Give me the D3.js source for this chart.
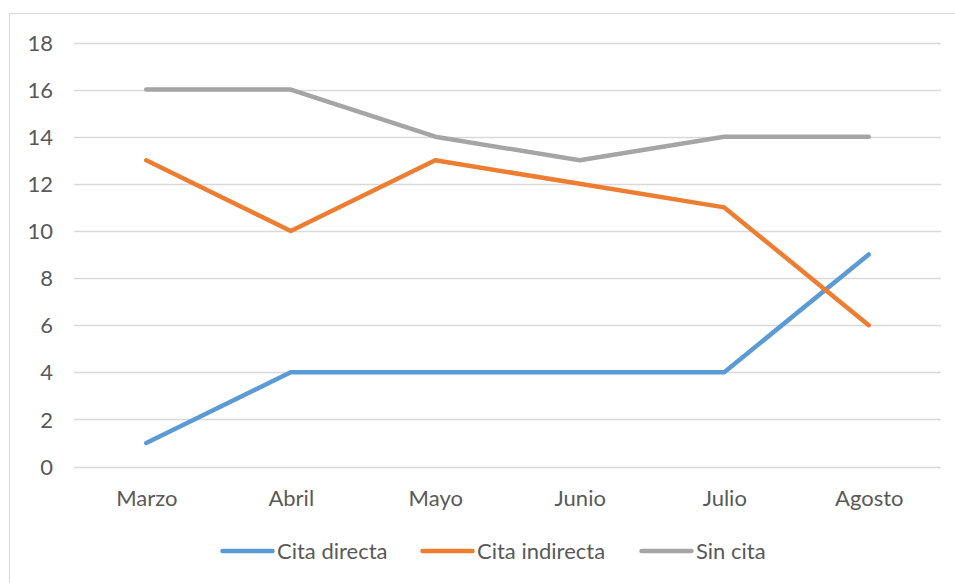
<!DOCTYPE html>
<html><head><meta charset="utf-8">
<script src="https://cdn.jsdelivr.net/npm/d3@7"></script>
<style>body{margin:0;background:#fff}svg{display:block}</style>
</head><body>
<script>
const categories = ["Marzo","Abril","Mayo","Junio","Julio","Agosto"];
const seriesNames = ["Cita directa","Cita indirecta","Sin cita"];
const citaDirecta = [1,4,4,4,4,9];
const citaIndirecta = [13,10,13,12,11,6];
const sinCita = [16,16,14,13,14,14];
const yTicks = [0,2,4,6,8,10,12,14,16,18];
const colors = ["#5B9BD5","#ED7D31","#A5A5A5"];
const seriesValues = [citaDirecta, citaIndirecta, sinCita];

const W=955,H=583;
const svg=d3.select("body").append("svg").attr("width",W).attr("height",H);
const font="Lato, 'Open Sans', sans-serif";
const fs=22;
svg.append("rect").attr("x",9.5).attr("y",13.5).attr("width",W).attr("height",H).attr("fill","#fff").attr("stroke","#D9D9D9").attr("stroke-width",1);

const pLeft=74,pRight=941,pTop=42.5,pBottom=466.5;
const x=d3.scalePoint().domain(categories).range([pLeft,pRight]).padding(0.5);
const y=d3.scaleLinear().domain([0,18]).range([pBottom,pTop]);

const grid=svg.append("g");
grid.selectAll("line").data(yTicks).join("line")
 .attr("x1",pLeft).attr("x2",pRight)
 .attr("y1",d=>Math.round(y(d))+0.5).attr("y2",d=>Math.round(y(d))+0.5)
 .attr("stroke","#D9D9D9").attr("stroke-width",1.3);

const yAxis=d3.axisLeft(y).tickValues(yTicks).tickSize(0).tickPadding(0);
const ya=svg.append("g").attr("transform",`translate(53,0)`).call(yAxis);
ya.select(".domain").remove();
ya.selectAll("text").attr("font-family",font).attr("font-size",fs).attr("fill","#595959").attr("dy","0.35em");

const xAxis=d3.axisBottom(x).tickSize(0).tickPadding(0);
const xa=svg.append("g").attr("transform",`translate(0,${pBottom})`).call(xAxis);
xa.select(".domain").remove();
xa.selectAll("text").attr("font-family",font).attr("font-size",fs).attr("fill","#595959").attr("y",39.5).attr("dy","0");

const line=d3.line().x((d,i)=>x(categories[i])).y(d=>y(d));
seriesValues.forEach((vals,k)=>{
 svg.append("path").datum(vals).attr("d",line).attr("fill","none")
  .attr("stroke",colors[k]).attr("stroke-width",4.5).attr("stroke-linecap","round").attr("stroke-linejoin","round");
});

const legX=[222.5,422.5,641.5];
const lg=svg.append("g");
seriesNames.forEach((n,k)=>{
 const g=lg.append("g").attr("transform",`translate(${legX[k]},551)`);
 g.append("line").attr("x1",0).attr("x2",50).attr("y1",0).attr("y2",0).attr("stroke",colors[k]).attr("stroke-width",4.5).attr("stroke-linecap","round");
 g.append("text").attr("x",54.5).attr("y",0).attr("dy","0.35em").attr("font-family",font).attr("font-size",fs).attr("fill","#595959").text(n);
});
</script>
</body></html>
